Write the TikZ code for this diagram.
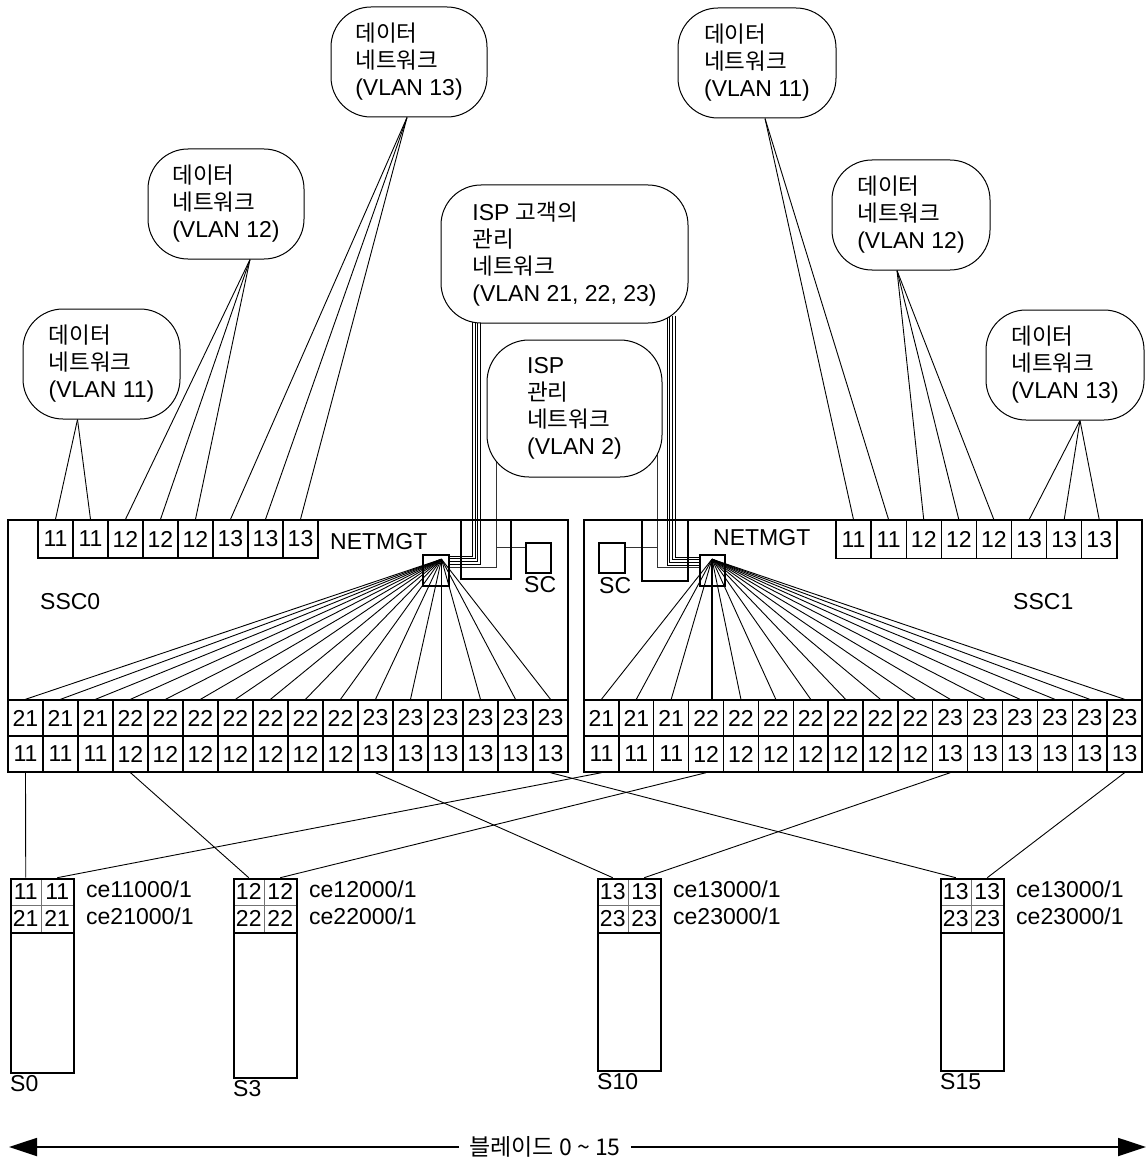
\documentclass[tikz,border=0pt]{standalone}
\usepackage{fontspec}
\setmainfont{Liberation Sans}
\newfontfamily\kr{Noto Sans CJK KR}
\usetikzlibrary{arrows.meta,calc}
\pgfdeclarelayer{bg}
\pgfsetlayers{bg,main}
\newcommand\ko[1]{{\kr\fontsize{22.5pt}{27pt}\selectfont #1}}
% #1 name, #2 left x, #3 height, #4 top number, #5 bottom number, #6 ce1, #7 ce2, #8 label
\newcommand\blade[8]{%
  \node[box, minimum width=63pt, minimum height=#3pt, anchor=north west] (#1) at (#2,878) {};
  \node[bcell] (#1a) at ({#2+15.75},891.5) {#4};
  \node[bcell] (#1b) at ({#2+47.25},891.5) {#4};
  \node[bcell] (#1c) at ({#2+15.75},918.5) {#5};
  \node[bcell] (#1d) at ({#2+47.25},918.5) {#5};
  \node[box, minimum width=63pt, minimum height=54pt, anchor=north west] (#1h) at (#2,878) {};
  \node[lbl, anchor=west] (#1ta) at ({#2+76},889) {#6};
  \node[lbl, anchor=west] (#1tb) at ({#2+76},916) {#7};
  \node[lbl, anchor=north west] (#1n) at (#2,{878+#3+3}) {#8};
}
\begin{document}
\begin{tikzpicture}[x=1pt,y=-1pt,
  font=\fontsize{23pt}{27pt}\selectfont,
  cloud/.style={draw, line width=1pt, fill=white, rounded corners=40pt, align=left, inner sep=0pt},
  port/.style={draw, line width=1.4pt, fill=white, inner sep=0pt, minimum height=36pt},
  tport/.style={draw, line width=1.4pt, fill=white, inner sep=0pt, minimum height=38pt},
  box/.style={draw, line width=1.6pt, inner sep=0pt},
  bcell/.style={draw=black!55, line width=0.6pt, inner sep=0pt, minimum width=31.5pt, minimum height=27pt},
  wire/.style={line width=0.9pt},
  cable/.style={line width=1pt},
  gwire/.style={line width=0.8pt, black!80},
  lbl/.style={inner sep=0pt}
]
\useasboundingbox (0,0) rectangle (1147,1161);

% ---------- clouds ----------
\node[cloud, minimum width=156pt, minimum height=110pt] (dL13) at (409,62) {\ko{데이터}\\\ko{네트워크}\\(VLAN 13)};
\node[cloud, minimum width=156pt, minimum height=110pt] (dL12) at (226,204) {\ko{데이터}\\\ko{네트워크}\\(VLAN 12)};
\node[cloud, minimum width=157pt, minimum height=110pt] (dL11) at (101.5,364) {\ko{데이터}\\\ko{네트워크}\\(VLAN 11)};
\node[cloud, minimum width=247pt, minimum height=138pt] (ispc) at (564.5,254) {ISP \ko{고객의}\\\ko{관리}\\\ko{네트워크}\\(VLAN 21, 22, 23)};
\node[cloud, rounded corners=42pt, minimum width=175pt, minimum height=137pt] (ispm) at (574.5,408.5) {ISP\\\ko{관리}\\\ko{네트워크}\\(VLAN 2)};
\node[cloud, minimum width=158pt, minimum height=110pt] (dR11) at (757,63) {\ko{데이터}\\\ko{네트워크}\\(VLAN 11)};
\node[cloud, minimum width=158pt, minimum height=110pt] (dR12) at (911,215) {\ko{데이터}\\\ko{네트워크}\\(VLAN 12)};
\node[cloud, minimum width=158pt, minimum height=110pt] (dR13) at (1065,365) {\ko{데이터}\\\ko{네트워크}\\(VLAN 13)};

% ---------- SSC boxes ----------
\node[box, minimum width=560pt, minimum height=180pt] (ssc0) at (288,610) {};
\node[box, minimum width=558pt, minimum height=180pt] (ssc1) at (863,610) {};
\node[lbl, anchor=west] (ssc0l) at (40,602) {SSC0};
\node[lbl, anchor=west] (ssc1l) at (1013,602) {SSC1};
\node[lbl, anchor=west] (nm0) at (330,542) {NETMGT};
\node[lbl, anchor=west] (nm1) at (713,538) {NETMGT};

% top ports
\foreach \l [count=\i] in {11,11,12,12,12,13,13,13}
  \node[tport, minimum width=35pt] (t0\i) at ({38+35*(\i-0.5)},539) {\l};
\foreach \l [count=\i] in {11,11,12,12,12,13,13,13}
  \node[tport, minimum width=35.1pt] (t1\i) at ({836+35.1*(\i-0.5)},539.5) {\l};

% bottom port rows
\foreach \l [count=\i] in {21,21,21,22,22,22,22,22,22,22,23,23,23,23,23,23}
  \node[port, minimum width=35pt] (p0a\i) at ({8+35*(\i-0.5)},718) {\l};
\foreach \l [count=\i] in {11,11,11,12,12,12,12,12,12,12,13,13,13,13,13,13}
  \node[port, minimum width=35pt] (p0b\i) at ({8+35*(\i-0.5)},754) {\l};
\foreach \l [count=\i] in {21,21,21,22,22,22,22,22,22,22,23,23,23,23,23,23}
  \node[port, minimum width=34.875pt] (p1a\i) at ({584+34.875*(\i-0.5)},718) {\l};
\foreach \l [count=\i] in {11,11,11,12,12,12,12,12,12,12,13,13,13,13,13,13}
  \node[port, minimum width=34.875pt] (p1b\i) at ({584+34.875*(\i-0.5)},754) {\l};

% NETMGT ports, U-shaped ports, SC boxes
\node[box, minimum width=26pt, minimum height=31pt] (n0) at (436,570.5) {};
\node[box, minimum width=25pt, minimum height=31pt] (n1) at (712.5,570.5) {};
\node[box, minimum width=50pt, minimum height=59pt] (u0) at (486,549.5) {};
\node[box, minimum width=46pt, minimum height=61pt] (u1) at (665,550.5) {};
\node[box, minimum width=25pt, minimum height=30pt] (sc0) at (538.5,558) {};
\node[box, minimum width=26pt, minimum height=30pt] (sc1) at (612,558) {};
\node[lbl, anchor=north west] (sc0l) at (524,576) {SC};
\node[lbl, anchor=north west] (sc1l) at (599,577) {SC};

% ---------- blades ----------
\blade{b0}{10}{194}{11}{21}{ce11000/1}{ce21000/1}{S0}
\blade{b3}{233}{199}{12}{22}{ce12000/1}{ce22000/1}{S3}
\blade{b10}{597}{192}{13}{23}{ce13000/1}{ce23000/1}{S10}
\blade{b15}{940}{192}{13}{23}{ce13000/1}{ce23000/1}{S15}

% ---------- bottom arrow ----------
\node[inner xsep=10pt, inner ysep=0pt, font=\kr\fontsize{23pt}{26pt}\selectfont] (blab) at (545,1147) {블레이드 0 \textasciitilde{} 15};
\coordinate (al) at (9,1147);
\coordinate (ar) at (1146,1147);
\draw[line width=1.8pt, -{Triangle[length=28pt,width=18pt]}] (blab.west) -- (al);
\draw[line width=1.8pt, -{Triangle[length=28pt,width=18pt]}] (blab.east) -- (ar);

% ---------- connectors (behind) ----------
\begin{pgfonlayer}{bg}
  % data networks to top ports
  \foreach \i in {1,2} \draw[wire] ($(dL11.south)+(-24,0)$) -- (t0\i.north);
  \foreach \i in {3,4,5} \draw[wire] ($(dL12.south)+(24,0)$) -- (t0\i.north);
  \foreach \i in {6,7,8} \draw[wire] ($(dL13.south)+(-2,0)$) -- (t0\i.north);
  \foreach \i in {1,2} \draw[wire] ($(dR11.south)+(8,0)$) -- (t1\i.north);
  \foreach \i in {3,4,5} \draw[wire] ($(dR12.south)+(-14,0)$) -- (t1\i.north);
  \foreach \i in {6,7,8} \draw[wire] ($(dR13.south)+(15,0)$) -- (t1\i.north);

  % fans from NETMGT
  \coordinate (o0) at ($(n0.north)+(5.5,5)$);
  \coordinate (o1) at ($(n1.north)+(-0.5,5)$);
  \foreach \i in {1,...,12,14,15,16} \draw[wire] (o0) -- (p0a\i.north);
  \draw[line width=1.4pt] (o0) -- (o0 |- p0a13.north);
  \foreach \i in {1,2,3,5,6,...,16} \draw[wire] (o1) -- (p1a\i.north);
  \draw[line width=1.4pt] (o1) -- (o1 |- p1a4.north);

  % ISP customer management cable (4 lines)
  \foreach \k in {0,1,2,3} {
    \draw[cable] ($(ispc.south west)+({32+2.7*\k},-8)$) |- ($(n0.north east)+(0,{2+2.7*\k})$);
    \draw[cable] ($(ispc.south west)+({226.7+2.7*\k},-8)$) |- ($(n1.north west)+(0,{11-2.7*\k})$);
  }
  % ISP management line
  \coordinate (g0) at ($(ispm.south west)+(10,-30)$);
  \coordinate (g1) at ($(ispm.south east)+(-5,-30)$);
  \draw[gwire] (g0) |- ($(n0.north east)+(0,13)$);
  \draw[gwire] (g1) |- ($(n1.north west)+(0,13)$);
  \coordinate (s0) at ($(sc0.north west)+(0,5)$);
  \coordinate (s1) at ($(sc1.north east)+(0,5)$);
  \draw[gwire] (s0) -- (g0 |- s0);
  \draw[gwire] (s1) -- (g1 |- s1);

  % ports to blades
  \draw[wire] (p0b1.south) -- (b0a.north);
  \draw[wire] (p0b4.south) -- (b3a.north);
  \draw[wire] (p0b11.south) -- (b10a.north);
  \draw[wire] (p0b16.south) -- (b15a.north);
  \draw[wire] (p1b1.south) -- (b0b.north);
  \draw[wire] (p1b4.south) -- (b3b.north);
  \draw[wire] (p1b11.south) -- (b10b.north);
  \draw[wire] (p1b16.south) -- (b15b.north);
\end{pgfonlayer}
\end{tikzpicture}
\end{document}
